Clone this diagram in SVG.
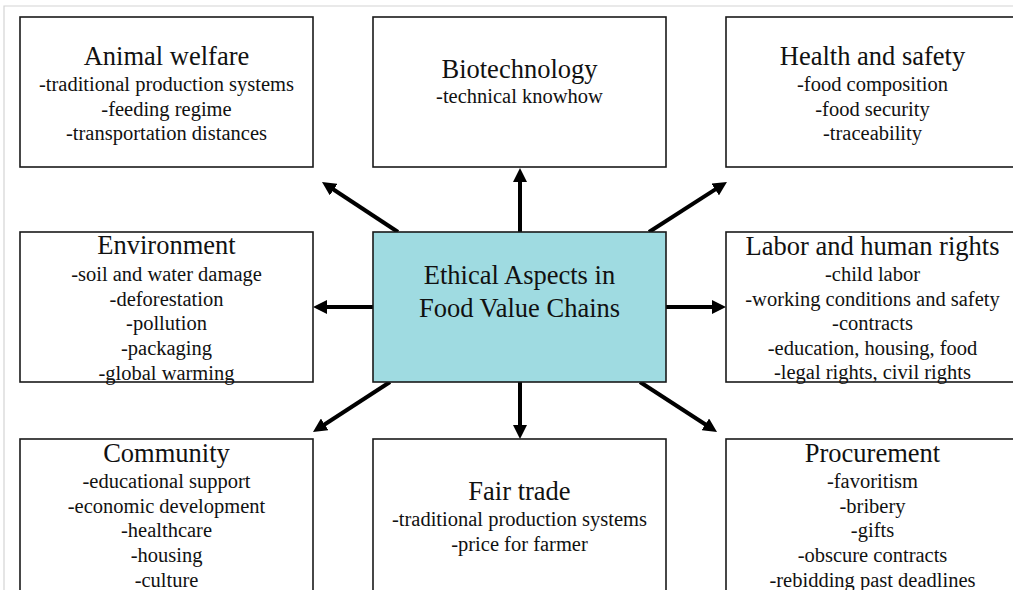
<svg xmlns="http://www.w3.org/2000/svg" width="1013" height="590" viewBox="0 0 1013 590">
  <style>
    .box { fill: #ffffff; stroke: #1a1a1a; stroke-width: 1.6; }
    .hub { fill: #9FDBE1; stroke: #1a1a1a; stroke-width: 1.6; }
    text { font-family: "Liberation Serif", "Times New Roman", serif; fill: #111111; text-anchor: middle; }
    .title { font-size: 26.5px; }
    .item { font-size: 20.5px; }
    .link { stroke: #000000; stroke-width: 4; fill: none; marker-end: url(#head); }
    .frame { stroke: #d4d4d4; stroke-width: 1.2; fill: none; }
  </style>
  <defs>
    <marker id="head" markerUnits="userSpaceOnUse" markerWidth="14" markerHeight="14" refX="3" refY="7" orient="auto">
      <path d="M0,0 L14,7 L0,14 z" fill="#000000"/>
    </marker>
  </defs>

  <rect x="0" y="0" width="1013" height="590" fill="#ffffff"/>
  <path class="frame" d="M4,590 L4,6 L1013,6"/>

  <g id="connectors">
    <line class="link" x1="398" y1="232" x2="331.2" y2="188"/>
    <line class="link" x1="520" y1="232" x2="520" y2="179"/>
    <line class="link" x1="649" y1="232" x2="717.7" y2="187.9"/>
    <line class="link" x1="373" y1="307" x2="324" y2="307"/>
    <line class="link" x1="666" y1="307" x2="715" y2="307"/>
    <line class="link" x1="390" y1="382" x2="322.2" y2="426"/>
    <line class="link" x1="520" y1="382" x2="520" y2="428"/>
    <line class="link" x1="640" y1="382" x2="707.8" y2="426"/>
  </g>

  <g id="animal-welfare">
    <rect class="box" x="20" y="17" width="293" height="150"/>
    <text class="title" x="166.5" y="65">Animal welfare</text>
    <text class="item" x="166.5" y="91">-traditional production systems</text>
    <text class="item" x="166.5" y="116">-feeding regime</text>
    <text class="item" x="166.5" y="140">-transportation distances</text>
  </g>

  <g id="biotechnology">
    <rect class="box" x="373" y="17" width="293" height="150"/>
    <text class="title" x="519.5" y="78">Biotechnology</text>
    <text class="item" x="519.5" y="103">-technical knowhow</text>
  </g>

  <g id="health-safety">
    <rect class="box" x="726" y="17" width="293" height="150"/>
    <text class="title" x="872.5" y="65">Health and safety</text>
    <text class="item" x="872.5" y="91">-food composition</text>
    <text class="item" x="872.5" y="116">-food security</text>
    <text class="item" x="872.5" y="140">-traceability</text>
  </g>

  <g id="environment">
    <rect class="box" x="20" y="232" width="293" height="150"/>
    <text class="title" x="166.5" y="254">Environment</text>
    <text class="item" x="166.5" y="281">-soil and water damage</text>
    <text class="item" x="166.5" y="306">-deforestation</text>
    <text class="item" x="166.5" y="330">-pollution</text>
    <text class="item" x="166.5" y="355">-packaging</text>
    <text class="item" x="166.5" y="380">-global warming</text>
  </g>

  <g id="ethical-aspects">
    <rect class="hub" x="373" y="232" width="293" height="150"/>
    <text class="title" x="519.5" y="284">Ethical Aspects in</text>
    <text class="title" x="519.5" y="317">Food Value Chains</text>
  </g>

  <g id="labor-rights">
    <rect class="box" x="726" y="232" width="293" height="150"/>
    <text class="title" x="872.5" y="255">Labor and human rights</text>
    <text class="item" x="872.5" y="281">-child labor</text>
    <text class="item" x="872.5" y="306">-working conditions and safety</text>
    <text class="item" x="872.5" y="330">-contracts</text>
    <text class="item" x="872.5" y="355">-education, housing, food</text>
    <text class="item" x="872.5" y="379">-legal rights, civil rights</text>
  </g>

  <g id="community">
    <rect class="box" x="20" y="439" width="293" height="160"/>
    <text class="title" x="166.5" y="462">Community</text>
    <text class="item" x="166.5" y="488">-educational support</text>
    <text class="item" x="166.5" y="513">-economic development</text>
    <text class="item" x="166.5" y="537">-healthcare</text>
    <text class="item" x="166.5" y="562">-housing</text>
    <text class="item" x="166.5" y="587">-culture</text>
  </g>

  <g id="fair-trade">
    <rect class="box" x="373" y="439" width="293" height="160"/>
    <text class="title" x="519.5" y="500">Fair trade</text>
    <text class="item" x="519.5" y="526">-traditional production systems</text>
    <text class="item" x="519.5" y="551">-price for farmer</text>
  </g>

  <g id="procurement">
    <rect class="box" x="726" y="439" width="293" height="160"/>
    <text class="title" x="872.5" y="462">Procurement</text>
    <text class="item" x="872.5" y="488">-favoritism</text>
    <text class="item" x="872.5" y="513">-bribery</text>
    <text class="item" x="872.5" y="537">-gifts</text>
    <text class="item" x="872.5" y="562">-obscure contracts</text>
    <text class="item" x="872.5" y="587">-rebidding past deadlines</text>
  </g>
</svg>
